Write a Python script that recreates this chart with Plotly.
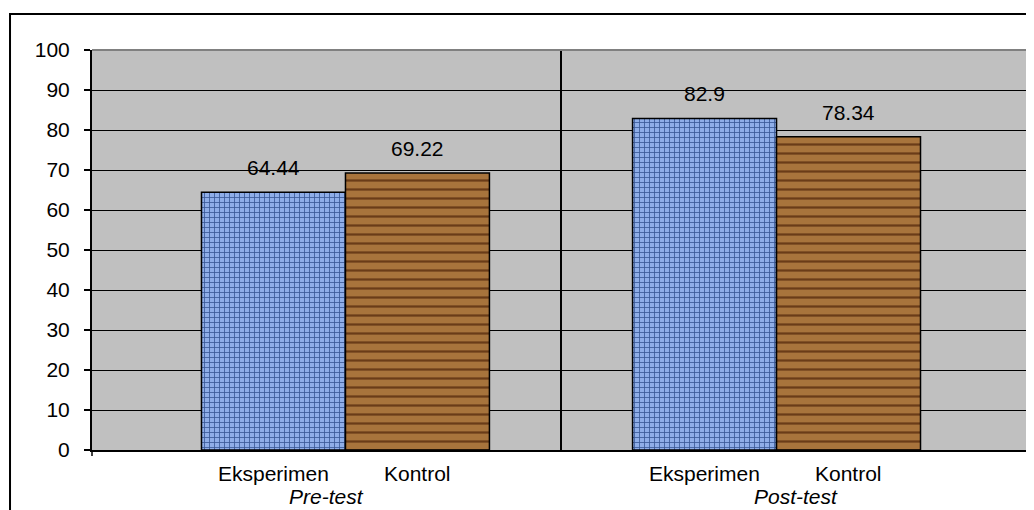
import plotly.graph_objects as go

groups = ["Pre-test", "Post-test"]
series = ["Eksperimen", "Kontrol"]
eksperimen = [64.44, 82.9]
kontrol = [69.22, 78.34]
y_ticks = list(range(0, 101, 10))

FONT = "Liberation Sans, Arial, sans-serif"
FS = 21
BARGAP = 0.332
XR = [-0.588, 1.588]
half = (1 - BARGAP) / 4  # offset of each bar centre from group centre

fig = go.Figure()
fig.add_trace(go.Bar(
    name=series[0], x=groups, y=eksperimen,
    marker=dict(color="#86A5E0",
                line=dict(color="black", width=1.5),
                pattern=dict(shape="+", size=5, solidity=0.3,
                             fgcolor="#3A5896", bgcolor="#8FAEE8", fillmode="replace")),
))
fig.add_trace(go.Bar(
    name=series[1], x=groups, y=kontrol,
    marker=dict(color="#A06A36",
                line=dict(color="black", width=1.5),
                pattern=dict(shape="-", size=9, solidity=0.25,
                             fgcolor="#6A3C18", bgcolor="#A8743C", fillmode="replace")),
))

annotations = []
for gi, g in enumerate(groups):
    for si, (s, vals) in enumerate(zip(series, [eksperimen, kontrol])):
        xc = gi + (-half if si == 0 else half)
        v = vals[gi]
        annotations.append(dict(x=xc, y=v, xref="x", yref="y", text=f"{v:g}",
                                showarrow=False, yanchor="bottom", yshift=11,
                                font=dict(family=FONT, size=FS, color="black")))
        annotations.append(dict(x=xc, y=0, xref="x", yref="y", text=s,
                                showarrow=False, yanchor="top", yshift=-10,
                                font=dict(family=FONT, size=FS, color="black")))
    gx = (XR[0] + 0.5) / 2 if gi == 0 else (0.5 + XR[1]) / 2
    annotations.append(dict(x=gx, y=0, xref="x", yref="y", text=f"<i>{g}</i>",
                            showarrow=False, yanchor="top", yshift=-33,
                            font=dict(family=FONT, size=FS, color="black")))

shapes = [
    # divider between groups
    dict(type="line", xref="x", yref="y", x0=0.5, x1=0.5, y0=0, y1=100,
         line=dict(color="black", width=2), layer="above"),
    # gray top & right border of plot area
    dict(type="line", xref="x domain", yref="y domain", x0=0, x1=1, y0=1, y1=1,
         line=dict(color="#808080", width=2), layer="above"),
    dict(type="line", xref="x domain", yref="y domain", x0=1, x1=1, y0=0, y1=1,
         line=dict(color="#808080", width=2.5), layer="above"),
    # small ticks below the category axis at the ends
    dict(type="line", xref="x domain", yref="paper", x0=0, x1=0, y0=0, y1=-0.015,
         line=dict(color="black", width=1.5)),
    dict(type="line", xref="x domain", yref="paper", x0=1, x1=1, y0=0, y1=-0.015,
         line=dict(color="black", width=1.5)),
    # outer chart border
    dict(type="rect", xref="paper", yref="paper", x0=-0.0874, x1=1.03, y0=-0.25, y1=1.09,
         line=dict(color="black", width=2), fillcolor="rgba(0,0,0,0)"),
]

fig.update_layout(
    width=1026, height=502,
    margin=dict(l=84, r=4, t=42, b=60),
    paper_bgcolor="white", plot_bgcolor="#C0C0C0",
    barmode="group", bargap=BARGAP, bargroupgap=0,
    showlegend=False,
    font=dict(family=FONT, size=FS, color="black"),
    annotations=annotations, shapes=shapes,
    xaxis=dict(type="category", range=XR, showticklabels=False, ticks="",
               showgrid=False, showline=True, linecolor="black", linewidth=2,
               zeroline=False, fixedrange=True),
    yaxis=dict(range=[0, 100], tickvals=y_ticks, ticks="outside", ticklen=6,
               tickcolor="black", tickwidth=1.5, showline=True, linecolor="black",
               linewidth=2, showgrid=True, gridcolor="black", gridwidth=1.2,
               zeroline=False, ticklabelstandoff=10,
               tickfont=dict(family=FONT, size=FS, color="black")),
)

fig.write_html("out.html")
